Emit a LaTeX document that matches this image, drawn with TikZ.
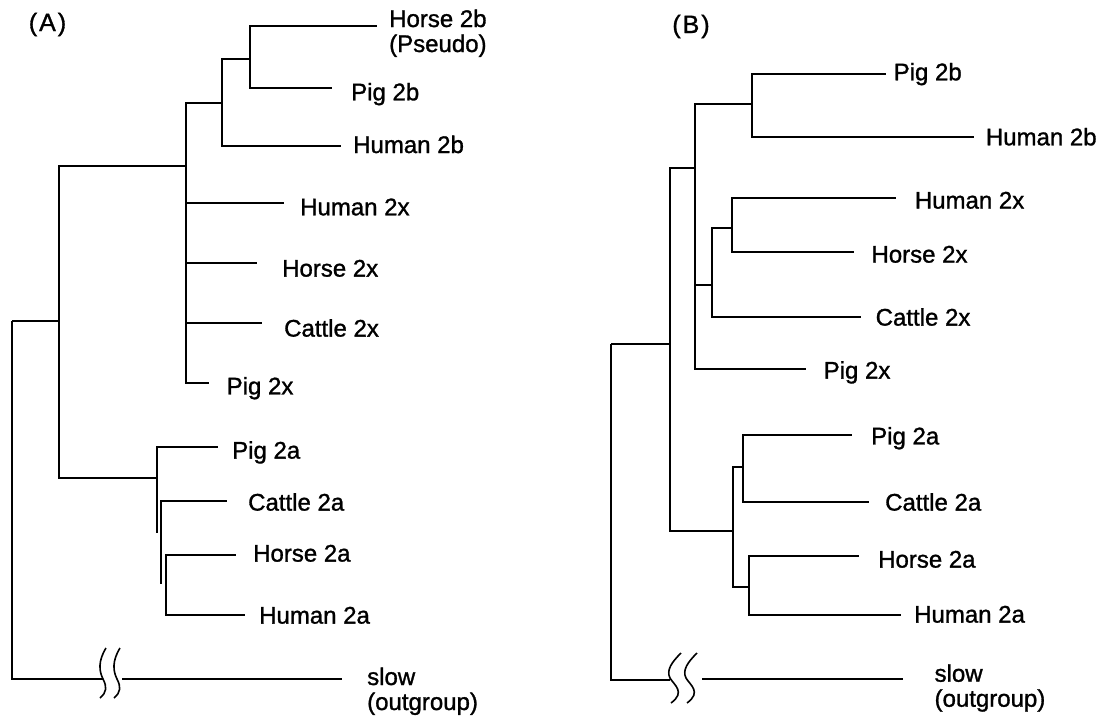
\documentclass[tikz,border=0pt]{standalone}
\usepackage{fontspec}
\setmainfont{Liberation Sans}
\newfontfamily\labfont{Liberation Sans}[FakeBold=1.2]
\begin{document}
\begin{tikzpicture}[x=1pt,y=-1pt,
  br/.style={line width=1.8pt,line join=miter},
  lab/.style={anchor=base west,inner sep=0pt,font=\labfont\fontsize{24}{25}\selectfont},
  ttl/.style={anchor=base,inner sep=0pt,font=\labfont\fontsize{25}{26}\selectfont},
  brkA/.pic={\draw[line width=1.6pt] (3,-31) .. controls (-5,-18) and (-4,-8) .. (0,0) .. controls (4,8) and (4,13) .. (-3,19);},
  brkB/.pic={\draw[line width=1.6pt] (11,-27) .. controls (2,-18) and (-4,-10) .. (0,-2) .. controls (4,5) and (16,12) .. (1,23);}
]
\useasboundingbox (0,0) rectangle (1108,718);
\fill[white] (0,0) rectangle (1108,718);

% ---------------- Panel A ----------------
\node[ttl] (titleA) at (47.5,31) {(\hspace{2pt}A\hspace{2pt})};

\coordinate (A-root) at (12,321);
\coordinate (A-n1) at (59,321);
\coordinate (A-n2) at (186,166);
\coordinate (A-n3) at (222,103);
\coordinate (A-n4) at (250,59);
\coordinate (A-n5) at (157,478);
\coordinate (A-n6) at (161,540);
\coordinate (A-n7) at (166,585);

\coordinate (tA-horse2b) at (377,26);
\coordinate (tA-pig2b) at (332,88);
\coordinate (tA-human2b) at (341,146);
\coordinate (tA-human2x) at (284,203);
\coordinate (tA-horse2x) at (257,263);
\coordinate (tA-cattle2x) at (262,323);
\coordinate (tA-pig2x) at (209,383);
\coordinate (tA-pig2a) at (218,447);
\coordinate (tA-cattle2a) at (227,501);
\coordinate (tA-horse2a) at (236,555);
\coordinate (tA-human2a) at (245,615);
\coordinate (A-brk1) at (103,679);
\coordinate (A-brk2) at (122,679);
\coordinate (tA-slow) at (342,679);

\draw[br] (A-root) -- (A-n1);
\draw[br] (A-root) |- (A-brk1);
\draw[br] (A-n1) |- (A-n2);
\draw[br] (A-n1) |- (A-n5);
\draw[br] (A-n2) |- (A-n3);
\draw[br] (A-n2) |- (tA-human2x);
\draw[br] (A-n2) |- (tA-horse2x);
\draw[br] (A-n2) |- (tA-cattle2x);
\draw[br] (A-n2) |- (tA-pig2x);
\draw[br] (A-n3) |- (A-n4);
\draw[br] (A-n3) |- (tA-human2b);
\draw[br] (A-n4) |- (tA-horse2b);
\draw[br] (A-n4) |- (tA-pig2b);
\draw[br] (A-n5) |- (tA-pig2a);
\draw[br] (A-n5) -- ++(0,55);
\draw[br] (A-n6) |- (tA-cattle2a);
\draw[br] (A-n6) -- ++(0,44);
\draw[br] (A-n7) |- (tA-horse2a);
\draw[br] (A-n7) |- (tA-human2a);
\draw[br] (A-brk2) -- (tA-slow);
\pic at (103,679) {brkA};
\pic at (117,679) {brkA};

\node[lab,align=left] (lA-horse2b) at (389,52) {Horse 2b\\(Pseudo)};
\node[lab] (lA-pig2b) at (351,100.3) {Pig 2b};
\node[lab] (lA-human2b) at (353,153) {Human 2b};
\node[lab] (lA-human2x) at (300,215.3) {Human 2x};
\node[lab] (lA-horse2x) at (282,276.6) {Horse 2x};
\node[lab] (lA-cattle2x) at (284,336.6) {Cattle 2x};
\node[lab] (lA-pig2x) at (226.5,394.4) {Pig 2x};
\node[lab] (lA-pig2a) at (232,458.6) {Pig 2a};
\node[lab] (lA-cattle2a) at (248,510.6) {Cattle 2a};
\node[lab] (lA-horse2a) at (253,561.6) {Horse 2a};
\node[lab] (lA-human2a) at (259,623.6) {Human 2a};
\node[lab,align=left] (lA-slow) at (367,710) {slow\\(outgroup)};

% ---------------- Panel B ----------------
\node[ttl] (titleB) at (691,33) {(\hspace{2pt}B\hspace{2pt})};

\coordinate (B-root) at (611,344);
\coordinate (B-n1) at (670,344);
\coordinate (B-n2) at (695,168);
\coordinate (B-n3) at (752,104);
\coordinate (B-n4) at (712,285);
\coordinate (B-n5) at (732,228);
\coordinate (B-n6) at (733,531);
\coordinate (B-n7) at (743,467);
\coordinate (B-n8) at (749,587);

\coordinate (tB-pig2b) at (886,74);
\coordinate (tB-human2b) at (974,137);
\coordinate (tB-human2x) at (896,198);
\coordinate (tB-horse2x) at (854,252);
\coordinate (tB-cattle2x) at (861,317);
\coordinate (tB-pig2x) at (806,369);
\coordinate (tB-pig2a) at (852,435);
\coordinate (tB-cattle2a) at (869,502);
\coordinate (tB-horse2a) at (859,556);
\coordinate (tB-human2a) at (901,615);
\coordinate (B-brk1) at (670,680);
\coordinate (B-brk2) at (702,679);
\coordinate (tB-slow) at (903,679);

\draw[br] (B-root) -- (B-n1);
\draw[br] (B-root) |- (B-brk1);
\draw[br] (B-n1) |- (B-n2);
\draw[br] (B-n1) |- (B-n6);
\draw[br] (B-n2) |- (B-n3);
\draw[br] (B-n2) |- (B-n4);
\draw[br] (B-n2) |- (tB-pig2x);
\draw[br] (B-n3) |- (tB-pig2b);
\draw[br] (B-n3) |- (tB-human2b);
\draw[br] (B-n4) |- (B-n5);
\draw[br] (B-n4) |- (tB-cattle2x);
\draw[br] (B-n5) |- (tB-human2x);
\draw[br] (B-n5) |- (tB-horse2x);
\draw[br] (B-n6) |- (B-n7);
\draw[br] (B-n6) |- (B-n8);
\draw[br] (B-n7) |- (tB-pig2a);
\draw[br] (B-n7) |- (tB-cattle2a);
\draw[br] (B-n8) |- (tB-horse2a);
\draw[br] (B-n8) |- (tB-human2a);
\draw[br] (B-brk2) -- (tB-slow);
\pic at (670,680) {brkB};
\pic at (686,680) {brkB};

\node[lab] (lB-pig2b) at (893.5,80.3) {Pig 2b};
\node[lab] (lB-human2b) at (985.7,145.3) {Human 2b};
\node[lab] (lB-human2x) at (914.7,208.6) {Human 2x};
\node[lab] (lB-horse2x) at (871.3,262.6) {Horse 2x};
\node[lab] (lB-cattle2x) at (875.5,325.6) {Cattle 2x};
\node[lab] (lB-pig2x) at (823.5,378.6) {Pig 2x};
\node[lab] (lB-pig2a) at (871,444.4) {Pig 2a};
\node[lab] (lB-cattle2a) at (885,510.6) {Cattle 2a};
\node[lab] (lB-horse2a) at (878,567.6) {Horse 2a};
\node[lab] (lB-human2a) at (914,622.6) {Human 2a};
\node[lab,align=left] (lB-slow) at (934.4,706.7) {slow\\(outgroup)};
\end{tikzpicture}
\end{document}
